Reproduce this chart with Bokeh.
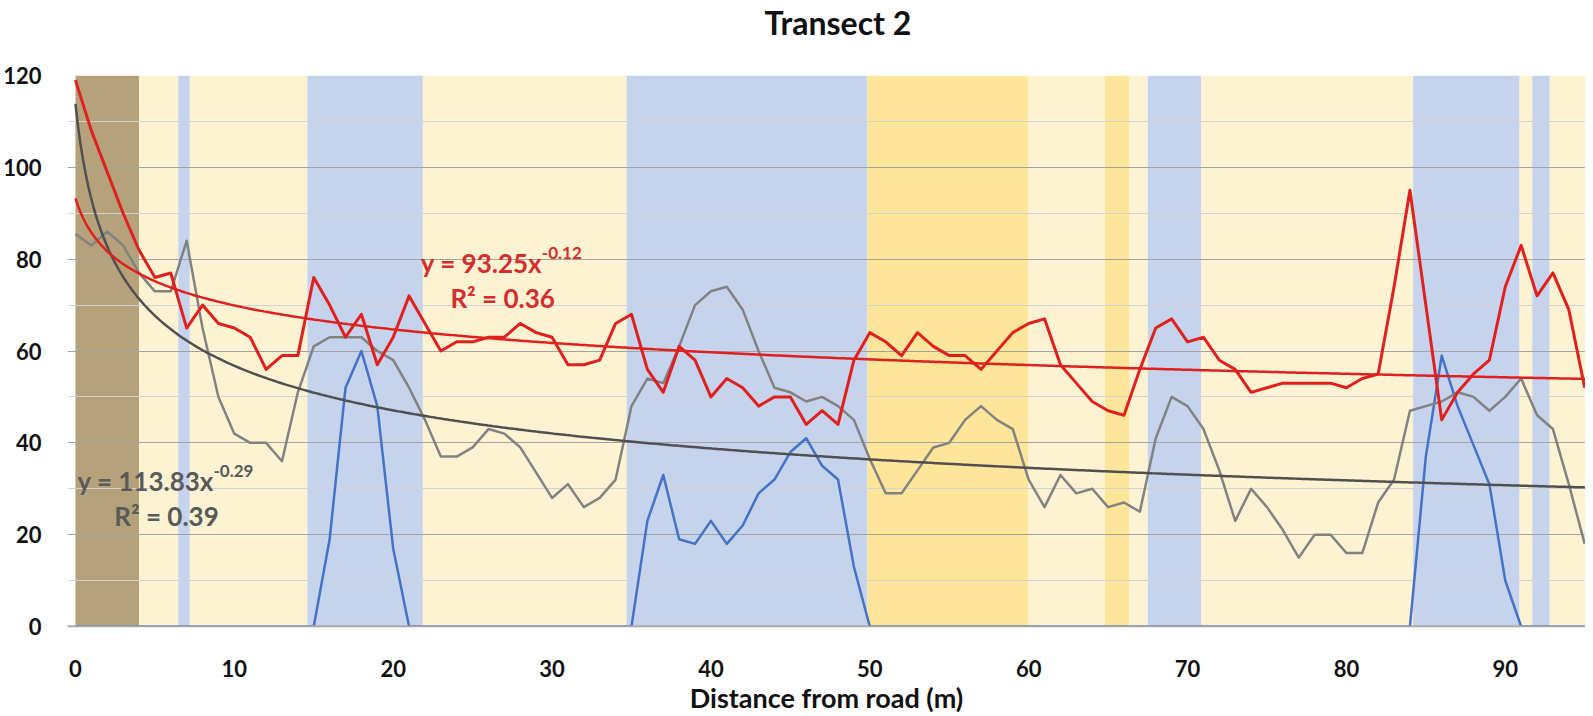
import numpy as np
from bokeh.plotting import figure
from bokeh.models import Range1d, SingleIntervalTicker, Label, Span, Title
from bokeh.embed import file_html
from bokeh.resources import INLINE

# ---------------- data ----------------
distance = list(range(96))

red_series = [119, 108, 99, 90, 82, 76, 77, 65, 70, 66,
              65, 63, 56, 59, 59, 76, 70, 63, 68, 57,
              63, 72, 66, 60, 62, 62, 63, 63, 66, 64,
              63, 57, 57, 58, 66, 68, 56, 51, 61, 58,
              50, 54, 52, 48, 50, 50, 44, 47, 44, 58,
              64, 62, 59, 64, 61, 59, 59, 56, 60, 64,
              66, 67, 57, 53, 49, 47, 46, 56, 65, 67,
              62, 63, 58, 56, 51, 52, 53, 53, 53, 53,
              52, 54, 55, 74, 95, 70, 45, 51, 55, 58,
              74, 83, 72, 77, 69, 52]

gray_series = [85.5, 83, 86, 83, 77, 73, 73, 84, 65, 50,
               42, 40, 40, 36, 51, 61, 63, 63, 63, 60,
               58, 52, 45, 37, 37, 39, 43, 42, 39, 33.5,
               28, 31, 26, 28, 32, 48, 54, 53, 61, 70,
               73, 74, 69, 60, 52, 51, 49, 50, 48, 45,
               36.5, 29, 29, 34, 39, 40, 45, 48, 45, 43,
               32, 26, 33, 29, 30, 26, 27, 25, 41, 50,
               48, 43, 34, 23, 30, 26, 21, 15, 20, 20,
               16, 16, 27, 32, 47, 48, 49, 51, 50, 47,
               50, 54, 46, 43, 31, 18]

blue_series = [0, 0, 0, 0, 0, 0, 0, 0, 0, 0,
               0, 0, 0, 0, 0, 0, 19, 52, 60, 48,
               17, 0, 0, 0, 0, 0, 0, 0, 0, 0,
               0, 0, 0, 0, 0, 0, 23, 33, 19, 18,
               23, 18, 22, 29, 32, 38, 41, 35, 32, 13,
               0, 0, 0, 0, 0, 0, 0, 0, 0, 0,
               0, 0, 0, 0, 0, 0, 0, 0, 0, 0,
               0, 0, 0, 0, 0, 0, 0, 0, 0, 0,
               0, 0, 0, 0, 0, 37, 59, 48, 39.5, 31,
               10, 0, 0, 0, 0, 0]

# power trendlines  y = a * x^b  (x = point number, first point = 1)
red_fit_a, red_fit_b = 93.25, -0.12
gray_fit_a, gray_fit_b = 113.83, -0.29

# background zones along the transect
band_start = [0, 4, 6.47, 7.2, 14.6, 21.87, 34.7, 49.85, 59.98, 64.8, 66.35, 67.5, 70.85, 84.2, 90.9, 91.7, 92.8]
band_end = [4, 6.47, 7.2, 14.6, 21.87, 34.7, 49.85, 59.98, 64.8, 66.35, 67.5, 70.85, 84.2, 90.9, 91.7, 92.8, 96]
band_kind = ["brown", "light", "blue", "light", "blue", "light", "blue", "gold", "light", "gold",
             "light", "blue", "light", "blue", "light", "blue", "light"]

# ---------------- styles ----------------
zone_colors = {"brown": "#b5a27a", "light": "#fdf2d2", "blue": "#c6d3ec", "gold": "#fde59a"}
RED = "#e0201e"
GRAY = "#828282"
DARKGRAY = "#505050"
BLUE = "#4472c4"
FONT = "Lato"

p = figure(width=1585, height=716,
           x_range=Range1d(-0.5, 95.05), y_range=Range1d(0, 120),
           output_backend="svg", toolbar_location=None,
           title="Transect 2",
           min_border_left=60, min_border_right=0, min_border_top=75, min_border_bottom=0)

p.background_fill_color = "white"
p.border_fill_color = "white"
p.outline_line_color = None

# title (a small spacer panel between title and plot area keeps it near the top)
p.title.text_font = FONT
p.title.text_font_size = "32px"
p.title.text_font_style = "bold"
p.title.text_color = "#111111"
p.title.align = "left"
p.title.offset = 697
p.title.standoff = 0
p.add_layout(Title(text=" ", text_font_size="10px", standoff=21), "above")

# zones
r_q = p.quad(left=band_start, right=band_end, bottom=0, top=120,
             fill_color=[zone_colors[k] for k in band_kind], line_color=None)
r_q.level = "image"

# axes
p.xaxis.ticker = SingleIntervalTicker(interval=10, num_minor_ticks=0)
p.yaxis.ticker = SingleIntervalTicker(interval=20, num_minor_ticks=2)
for ax in (p.xaxis, p.yaxis):
    ax.major_label_text_font = FONT
    ax.major_label_text_font_size = "22px"
    ax.major_label_text_font_style = "bold"
    ax.major_label_text_color = "#111111"
    ax.major_tick_line_color = None
    ax.minor_tick_line_color = None
p.yaxis.axis_line_color = None
p.yaxis.major_label_standoff = 20
p.xaxis.axis_line_color = "#a6a6a6"
p.xaxis.axis_line_width = 1.5
p.xaxis.major_label_standoff = 27
p.xaxis.axis_label = "Distance from road (m)"
p.xaxis.axis_label_text_font = FONT
p.xaxis.axis_label_text_font_size = "27px"
p.xaxis.axis_label_text_font_style = "bold"
p.xaxis.axis_label_text_color = "#111111"
p.xaxis.axis_label_standoff = 1

# grid
p.xgrid.grid_line_color = None
p.ygrid.grid_line_color = "#a3a3a3"
p.ygrid.grid_line_width = 1.2
p.ygrid.minor_grid_line_color = "#d2d2d2"
p.ygrid.minor_grid_line_width = 1

# series
p.line(distance, blue_series, line_color=BLUE, line_width=2.5, line_join="round")
p.line(distance, gray_series, line_color=GRAY, line_width=2.5, line_join="round")
p.line(distance, red_series, line_color=RED, line_width=3, line_join="round")

# trendlines
trend_x = np.linspace(0, 96, 600)
p.line(trend_x, gray_fit_a * (trend_x + 1) ** gray_fit_b, line_color=DARKGRAY, line_width=2.5)
p.line(trend_x, red_fit_a * (trend_x + 1) ** red_fit_b, line_color=RED, line_width=2.5)

# baseline over zero values
p.add_layout(Span(location=0, dimension="width", line_color="#a6a6a6", line_width=2, level="overlay"))

# trendline equations
def eq_labels(x, y, main, expo, r2, r2_dx, color, expo_dx):
    common = dict(text_font=FONT, text_font_style="bold", text_color=color, text_baseline="alphabetic")
    p.add_layout(Label(x=x, y=y, text=main, text_font_size="26px", **common))
    p.add_layout(Label(x=x, y=y, x_offset=expo_dx, y_offset=10, text=expo, text_font_size="17px", **common))
    p.add_layout(Label(x=x + r2_dx, y=y - 7.6, text=r2, text_font_size="26px", **common))

eq_labels(21.74, 79.2, "y = 93.25x", "-0.12", "R\u00b2 = 0.36", 1.86, "#d42d2d", 121)
eq_labels(0.13, 31.6, "y = 113.83x", "-0.29", "R\u00b2 = 0.39", 2.31, "#5a5a5a", 136)

open("out.html", "w").write(file_html(p, INLINE))
